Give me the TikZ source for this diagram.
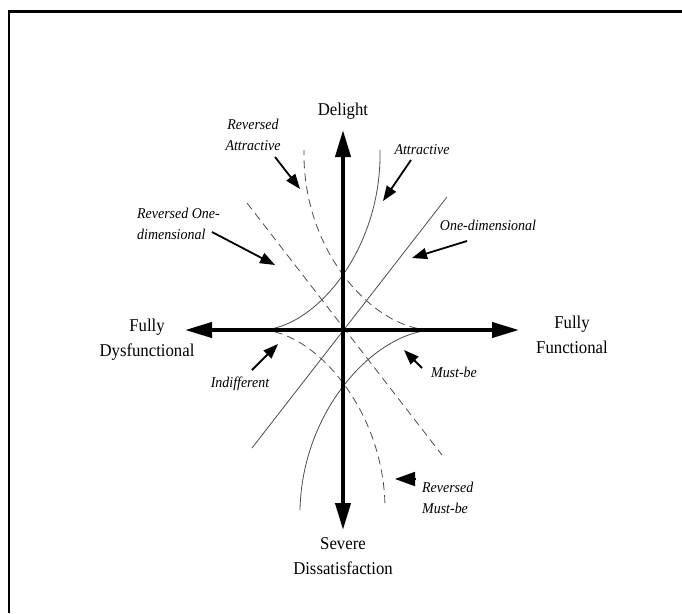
\documentclass[tikz,border=0pt]{standalone}
\usepackage{fontspec}
\setmainfont[FakeStretch=0.93]{Liberation Serif}
\usetikzlibrary{arrows.meta}
\begin{document}
\begin{tikzpicture}[x=1pt,y=-1pt,
  axis/.style={line width=4pt,-{Triangle[length=27pt,width=15pt]}},
  curve/.style={line width=0.8pt,black!70},
  dcurve/.style={curve,dash pattern=on 8pt off 5pt},
  pointer/.style={line width=1.8pt,-{Triangle[length=15pt,width=11pt]}},
  biglab/.style={font=\fontsize{18}{25}\selectfont,align=center,inner sep=0pt},
  typelab/.style={font=\fontsize{15}{21}\selectfont\itshape,align=center,inner sep=0pt}]
\useasboundingbox (0,0) rectangle (682,613);
% frame
\draw[line width=2.5pt] (9,613) -- (9,11.5) -- (682,11.5);
% coordinates of the axes
\coordinate (O) at (343,330);
\coordinate (top) at (343,130);
\coordinate (bottom) at (343,530);
\coordinate (left) at (185,330);
\coordinate (right) at (519,330);
% curves
\draw[curve] (262,330) .. controls (315,328) and (382,250) .. (380,150);   % attractive
\draw[curve] (433,330) .. controls (375,332) and (302,410) .. (300,510);   % must-be
\draw[dcurve] (430,330) .. controls (372,328) and (302,250) .. (304,150);  % reversed attractive
\draw[dcurve] (262,330) .. controls (315,332) and (384,410) .. (385,507);  % reversed must-be
\draw[curve] (252,448) -- (447,197);   % one-dimensional
\draw[dcurve] (247,203) -- (442,455);  % reversed one-dimensional
% axes
\draw[axis] (O) -- (top);
\draw[axis] (O) -- (bottom);
\draw[axis] (O) -- (left);
\draw[axis] (O) -- (right);
% axis labels
\node[biglab] (delight) at (343,111) {Delight};
\node[biglab] (severe) at (343,556) {Severe\\Dissatisfaction};
\node[biglab] (dysf) at (147,340) {Fully\\Dysfunctional};
\node[biglab] (func) at (572,335) {Fully\\Functional};
% type labels
\node[typelab] (ratt) at (253,135) {Reversed\\Attractive};
\node[typelab] (att) at (422,150) {Attractive};
\node[typelab] (oned) at (488,225) {One-dimensional};
\node[typelab,align=left,anchor=west] (roned) at (137,224) {Reversed One-\\dimensional};
\node[typelab] (indiff) at (240,384) {Indifferent};
\node[typelab] (must) at (454,372) {Must-be};
\node[typelab,align=left,anchor=west] (rmust) at (422,498) {Reversed\\Must-be};
% pointers
\coordinate (p1s) at (275,157); \coordinate (p1e) at (300,189);
\coordinate (p2s) at (411,160); \coordinate (p2e) at (383,201);
\coordinate (p3s) at (467,241); \coordinate (p3e) at (412,258);
\coordinate (p4s) at (212,232); \coordinate (p4e) at (275,265);
\coordinate (p5s) at (252,370); \coordinate (p5e) at (278,344);
\coordinate (p6s) at (422,368); \coordinate (p6e) at (404,350);
\coordinate (p7s) at (416,479); \coordinate (p7e) at (395,479);
\draw[pointer] (p1s) -- (p1e);
\draw[pointer] (p2s) -- (p2e);
\draw[pointer] (p3s) -- (p3e);
\draw[pointer] (p4s) -- (p4e);
\draw[pointer] (p5s) -- (p5e);
\draw[pointer] (p6s) -- (p6e);
\draw[line width=1.8pt,-{Triangle[length=20pt,width=14pt]}] (p7s) -- (p7e);
\end{tikzpicture}
\end{document}
